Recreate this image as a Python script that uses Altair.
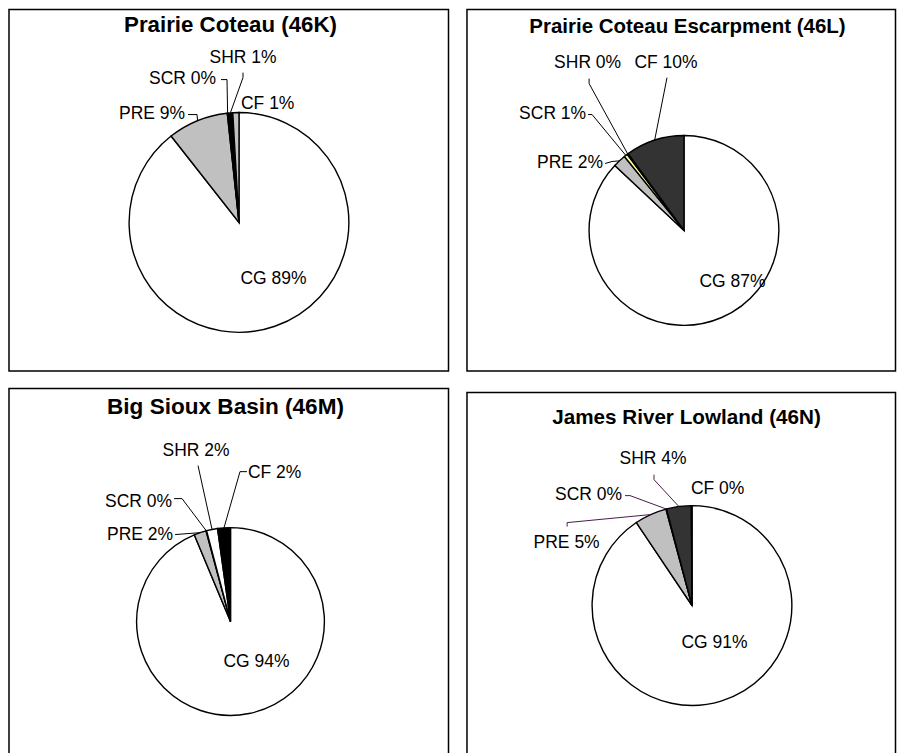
import altair as alt
import pandas as pd

# ---------------- data ----------------
CATS = ["CG", "PRE", "SCR", "SHR", "CF"]
TITLES = ["Prairie Coteau (46K)", "Prairie Coteau Escarpment (46L)",
          "Big Sioux Basin (46M)", "James River Lowland (46N)"]
V_46K = [89.4, 8.9, 0.1, 0.7, 0.9]
V_46L = [87.0, 2.2, 0.6, 0.2, 10.0]
V_46M = [93.7, 2.1, 0.1, 1.9, 2.2]
V_46N = [90.6, 5.2, 0.1, 4.0, 0.1]

# ---------------- styles ----------------
C_46K = ["#ffffff", "#c0c0c0", "#ffffff", "#000000", "#c0c0c0"]
C_46L = ["#ffffff", "#c0c0c0", "#ffff99", "#ccffff", "#333333"]
C_46M = ["#ffffff", "#c0c0c0", "#ffffff", "#ffffff", "#000000"]
C_46N = ["#ffffff", "#c0c0c0", "#ffffff", "#333333", "#333333"]

FONT = "Liberation Sans"

# panel layout (page pixels): origin, size, pie centre, radius, title pos/size, leader colour
PANELS = [
    dict(origin=(8.75, 8.75), size=(440, 362), center=(239, 222), r=110,
         title=(230.5, 31, 22.3), lc="#000000"),
    dict(origin=(466.75, 8.75), size=(429, 362), center=(684, 230), r=95,
         title=(687.5, 32, 20.5), lc="#000000"),
    dict(origin=(8.75, 387.75), size=(440, 366), center=(230.5, 621), r=94,
         title=(225.5, 413, 22.6), lc="#000000"),
    dict(origin=(466.75, 391.75), size=(429, 366), center=(692, 605), r=100,
         title=(686.5, 423, 20.7), lc="#4d1a4d"),
]

# label layout relative to pie centre: text anchor, align, tick start, elbow
LABELS = [
    {"CG": ((34.5, 62), "center", None, None),
     "PRE": ((-54, -104), "right", (-51, -108), (-42, -108)),
     "SCR": ((-23, -139), "right", (-18, -143), (-12, -143)),
     "SHR": ((4, -160), "center", (4, -150), (4, -145)),
     "CF": ((2, -114), "left", None, None)},
    {"CG": ((48.5, 57), "center", None, None),
     "PRE": ((-81, -62), "right", (-79, -67), (-72, -69)),
     "SCR": ((-98, -112), "right", (-96, -116), (-92, -116)),
     "SHR": ((-96.5, -163), "center", (-95, -152), (-95, -147)),
     "CF": ((-18, -163), "center", (-17, -153), (-17, -153))},
    {"CG": ((26, 46), "center", None, None),
     "PRE": ((-57.5, -82), "right", (-55.5, -87), (-55.5, -87)),
     "SCR": ((-58.5, -115), "right", (-56.5, -123), (-48.5, -123)),
     "SHR": ((-34.5, -166), "center", (-32.5, -156), (-32.5, -156)),
     "CF": ((17.5, -144), "left", (16.5, -150), (9.5, -150))},
    {"CG": ((22.5, 43), "center", None, None),
     "PRE": ((-125.5, -58), "center", (-125, -79), (-125, -83)),
     "SCR": ((-70, -106), "right", (-67, -110), (-62, -110)),
     "SHR": ((-39, -142), "center", (-38, -131), (-38, -126)),
     "CF": ((-1, -112), "left", None, None)},
]


def panel(title, values, colors, geo, labels):
    ox, oy = geo["origin"]
    w, h = geo["size"]
    cx, cy = geo["center"][0] - ox, geo["center"][1] - oy
    r = geo["r"]
    rows = []
    for i, (c, v) in enumerate(zip(CATS, values)):
        (tx, ty), align, tick, elbow = labels[c]
        row = dict(cat=c, idx=i, value=v, align=align,
                   lx=cx + tx, ly=cy + ty)
        if tick is not None:
            row.update(tkx=cx + tick[0], tky=cy + tick[1],
                       elx=cx + elbow[0], ely=cy + elbow[1])
        else:
            row.update(tkx=None, tky=None, elx=None, ely=None)
        rows.append(row)
    df = pd.DataFrame(rows)

    base = alt.Chart(df).transform_calculate(
        label="datum.cat + ' ' + format(datum.value, '.0f') + '%'"
    )

    arcs = alt.Chart(df).mark_arc(outerRadius=r, stroke="black", strokeWidth=1.4).encode(
        theta=alt.Theta("value:Q", stack=True),
        color=alt.Color("cat:N", scale=alt.Scale(domain=CATS, range=colors), legend=None),
        order=alt.Order("idx:Q"),
        x=alt.value(cx), y=alt.value(cy),
    )

    edges = base.transform_joinaggregate(total="sum(value)").transform_window(
        cum="sum(value)", sort=[alt.SortField("idx")], frame=[None, 0]
    ).transform_calculate(
        ang="2*PI*(datum.cum - datum.value/2)/datum.total"
    ).transform_calculate(
        ex=f"{cx} + {r}*sin(datum.ang)",
        ey=f"{cy} - {r}*cos(datum.ang)",
    ).transform_filter("isValid(datum.elx)")

    lead1 = edges.mark_rule(color=geo["lc"], strokeWidth=1).encode(
        x=alt.X("ex:Q", scale=None, axis=None),
        y=alt.Y("ey:Q", scale=None, axis=None),
        x2="elx:Q", y2="ely:Q",
    )
    lead2 = edges.mark_rule(color=geo["lc"], strokeWidth=1).encode(
        x=alt.X("elx:Q", scale=None, axis=None),
        y=alt.Y("ely:Q", scale=None, axis=None),
        x2="tkx:Q", y2="tky:Q",
    )

    texts = []
    for a in ["left", "center", "right"]:
        texts.append(
            base.transform_filter(alt.datum.align == a).mark_text(
                align=a, baseline="alphabetic", font=FONT, fontSize=17.5, color="black"
            ).encode(
                x=alt.X("lx:Q", scale=None, axis=None),
                y=alt.Y("ly:Q", scale=None, axis=None),
                text="label:N",
            )
        )

    tx, ty, ts = geo["title"]
    ttl = alt.Chart(pd.DataFrame({"t": [title]})).mark_text(
        align="center", baseline="alphabetic", font=FONT, fontSize=ts,
        fontWeight="bold", color="black"
    ).encode(x=alt.value(tx - ox), y=alt.value(ty - oy), text="t:N")

    return alt.layer(arcs, lead1, lead2, *texts, ttl).properties(width=w, height=h)


VALS = [V_46K, V_46L, V_46M, V_46N]
COLS = [C_46K, C_46L, C_46M, C_46N]
P = [panel(TITLES[i], VALS[i], COLS[i], PANELS[i], LABELS[i]) for i in range(4)]

left = alt.vconcat(P[0], P[2], spacing=15.5).resolve_scale(color="independent")
right = alt.vconcat(P[1], P[3], spacing=19.5).resolve_scale(color="independent")
chart = alt.hconcat(left, right, spacing=16.5).resolve_scale(color="independent").properties(
    padding=0, background="white"
).configure_view(stroke="black", strokeWidth=1.5)

chart.save("out.html", embed_options={"renderer": "svg", "actions": False})
